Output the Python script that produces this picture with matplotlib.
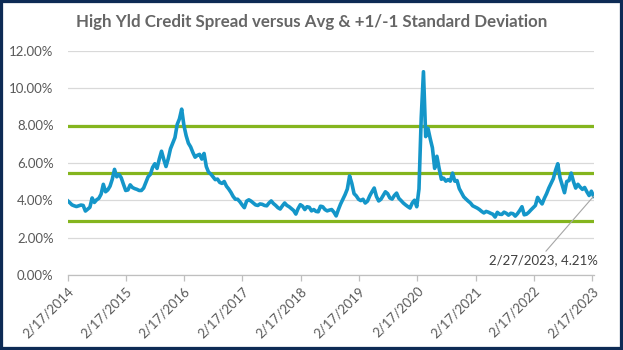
import matplotlib
matplotlib.use("Agg")
import matplotlib.pyplot as plt
from matplotlib.patches import Rectangle
import pandas as pd

# Bi-weekly high-yield credit spread (%), 2/17/2014 .. 2/27/2023
spread = [
    3.98, 3.87, 3.75, 3.70, 3.66, 3.70, 3.74, 3.72, 3.42, 3.52,
    3.62, 4.12, 3.88, 4.02, 4.10, 4.32, 4.85, 4.45, 4.55, 4.75,
    5.12, 5.65, 5.25, 5.38, 5.20, 4.85, 4.52, 4.55, 4.82, 4.68,
    4.62, 4.58, 4.52, 4.52, 4.65, 4.95, 5.25, 5.38, 5.75, 5.95,
    5.70, 6.20, 6.62, 6.18, 5.80, 6.22, 6.75, 7.05, 7.35, 8.05,
    8.35, 8.87, 8.00, 7.45, 7.05, 6.85, 6.55, 6.30, 6.40, 6.45,
    6.20, 6.50, 5.80, 5.50, 5.40, 5.25, 5.10, 5.13, 4.95, 4.90,
    5.00, 4.75, 4.60, 4.42, 4.20, 4.05, 4.05, 3.92, 3.75, 3.60,
    3.95, 4.02, 3.95, 3.85, 3.75, 3.72, 3.80, 3.78, 3.72, 3.70,
    3.85, 3.96, 3.82, 3.72, 3.60, 3.53, 3.70, 3.85, 3.72, 3.65,
    3.55, 3.45, 3.26, 3.55, 3.76, 3.68, 3.50, 3.65, 3.62, 3.43,
    3.50, 3.40, 3.38, 3.68, 3.65, 3.50, 3.43, 3.47, 3.50, 3.36,
    3.16, 3.50, 3.80, 4.05, 4.30, 4.60, 5.30, 4.90, 4.35, 4.23,
    4.05, 3.98, 4.05, 3.85, 3.95, 4.23, 4.45, 4.65, 4.20, 3.96,
    4.05, 4.25, 4.45, 4.35, 4.12, 4.06, 4.25, 4.38, 4.10, 3.98,
    3.85, 3.75, 3.66, 3.58, 3.85, 4.00, 3.65, 4.60, 8.40, 10.87,
    7.40, 7.85, 7.30, 6.80, 5.70, 6.35, 5.70, 5.12, 5.18, 5.02,
    5.10, 5.02, 5.45, 5.02, 5.05, 4.62, 4.40, 4.18, 4.06, 3.95,
    3.85, 3.70, 3.64, 3.58, 3.50, 3.40, 3.32, 3.40, 3.36, 3.30,
    3.25, 3.10, 3.35, 3.25, 3.24, 3.36, 3.30, 3.20, 3.30, 3.28,
    3.15, 3.28, 3.45, 3.65, 3.22, 3.25, 3.35, 3.48, 3.60, 3.72,
    4.15, 3.95, 3.80, 4.10, 4.35, 4.65, 4.90, 5.15, 5.60, 5.95,
    5.20, 4.80, 4.40, 5.00, 5.05, 5.45, 5.00, 4.65, 4.85, 4.70,
    4.58, 4.68, 4.45, 4.25, 4.48, 4.21,
]
start_date = "2014-02-17"
end_date = "2023-02-27"

# Long-run average and +/- one standard deviation bands (%)
avg_level = 5.43
plus_one_sd = 7.99
minus_one_sd = 2.87

tick_dates = ["2014-02-17", "2015-02-17", "2016-02-17", "2017-02-17", "2018-02-17",
              "2019-02-17", "2020-02-17", "2021-02-17", "2022-02-17", "2023-02-17"]
tick_labels = ["2/17/2014", "2/17/2015", "2/17/2016", "2/17/2017", "2/17/2018",
               "2/17/2019", "2/17/2020", "2/17/2021", "2/17/2022", "2/17/2023"]
y_ticks = [0, 2, 4, 6, 8, 10, 12]
y_labels = ["0.00%", "2.00%", "4.00%", "6.00%", "8.00%", "10.00%", "12.00%"]

title = "High Yld Credit Spread versus Avg & +1/-1 Standard Deviation"
callout = "2/27/2023, 4.21%"

plt.rcParams["font.family"] = ["Lato", "DejaVu Sans"]

dates = pd.date_range(start_date, end_date, periods=len(spread))

fig = plt.figure(figsize=(6.23, 3.5), dpi=100)
fig.patch.set_facecolor("white")
ax = fig.add_axes([67.5 / 623, 75 / 350, (593.6 - 67.5) / 623, (275 - 50.6) / 350])

band_color = "#84b51e"
for level in (plus_one_sd, avg_level, minus_one_sd):
    ax.axhline(level, color=band_color, lw=2.3, zorder=2)

ax.plot(dates, spread, color="#1496c9", lw=2.6, zorder=3, solid_joinstyle="round")

ax.set_ylim(0, 12)
ax.set_xlim(pd.Timestamp(start_date), pd.Timestamp(end_date))
ax.set_yticks(y_ticks)
ax.set_yticklabels(y_labels)
ax.yaxis.grid(True, color="#d9d9d9", lw=0.9, zorder=0)
ax.set_axisbelow(True)

ax.set_xticks([pd.Timestamp(d) for d in tick_dates])
ax.set_xticklabels(tick_labels, rotation=45, ha="right", rotation_mode="anchor")

for side in ("top", "right", "left"):
    ax.spines[side].set_visible(False)
ax.spines["bottom"].set_color("#bfbfbf")
ax.spines["bottom"].set_linewidth(0.9)
ax.tick_params(axis="y", length=0, pad=10, labelsize=9.5, labelcolor="#595959")
ax.tick_params(axis="x", length=4, width=0.9, color="#bfbfbf", pad=3,
               labelsize=9.5, labelcolor="#595959")

fig.text(0.5, 1 - 22 / 350, title, ha="center", va="center",
         fontsize=12.2, fontweight="bold", color="#666666")

ax.annotate(callout, xy=(dates[-1], spread[-1]), xycoords="data",
            xytext=(543.5, 90), textcoords="figure pixels",
            ha="center", va="center", fontsize=9.5, color="#404040",
            arrowprops=dict(arrowstyle="-", color="#a6a6a6", lw=0.8,
                            shrinkA=0, shrinkB=0, relpos=(0.5, 1.0)))

fig.patches.append(Rectangle((0, 0), 1, 1, transform=fig.transFigure, fill=False,
                             edgecolor="#0d2b55", linewidth=4.5, zorder=10))

fig.savefig("out.png", dpi=100)
